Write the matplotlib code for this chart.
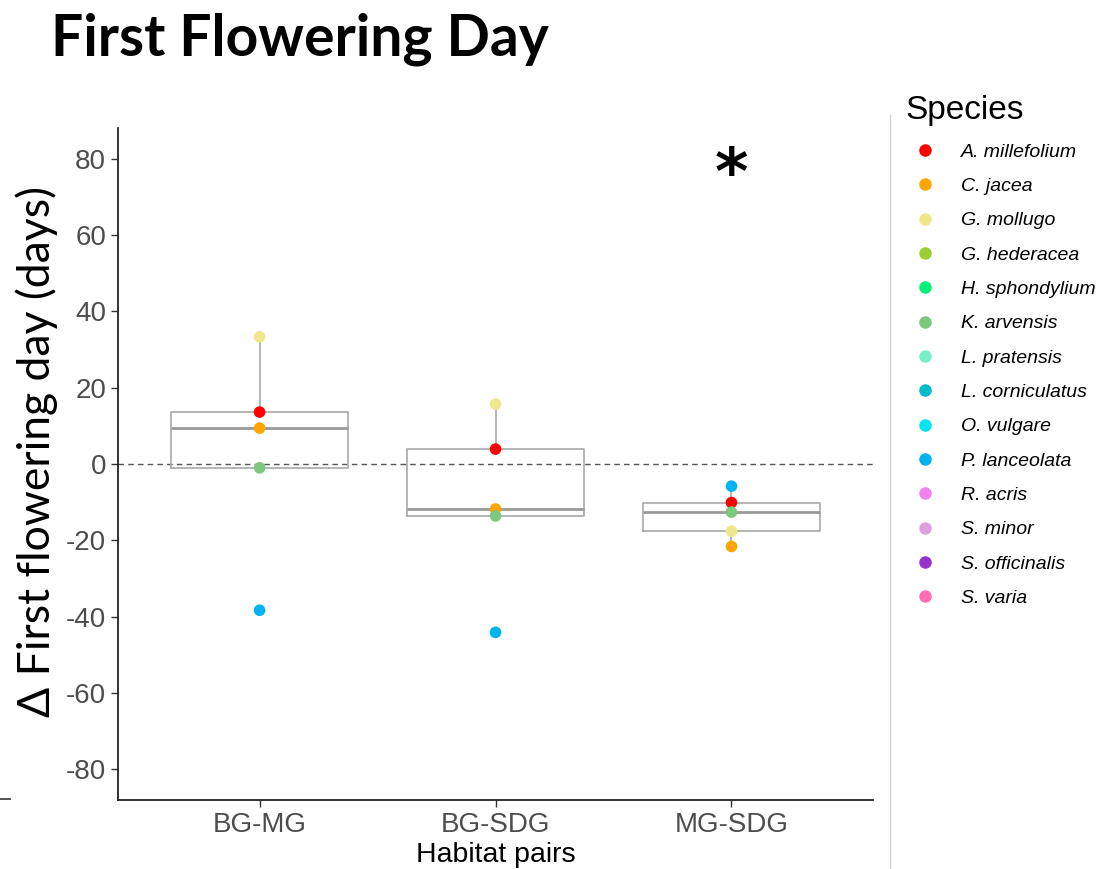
import numpy as np
import matplotlib
matplotlib.use("Agg")
import matplotlib.pyplot as plt
from matplotlib.lines import Line2D

# habitat pairs and per-species differences in first flowering day
pairs = ["BG-MG", "BG-SDG", "MG-SDG"]
species = ["A. millefolium", "C. jacea", "G. mollugo", "G. hederacea",
           "H. sphondylium", "K. arvensis", "L. pratensis", "L. corniculatus",
           "O. vulgare", "P. lanceolata", "R. acris", "S. minor",
           "S. officinalis", "S. varia"]
colors = ["#FF0000", "#FFA500", "#F0E68C", "#9ACD32",
          "#00F07A", "#7CC87C", "#76EEC6", "#00BCC8",
          "#00E5EE", "#00B2EE", "#EE82EE", "#DDA0DD",
          "#9A32CD", "#FF6EB4"]

# species measured in each pair
measured = ["A. millefolium", "C. jacea", "G. mollugo", "K. arvensis", "P. lanceolata"]
delta_bg_mg = [13.6, 9.4, 33.3, -1.0, -38.3]
delta_bg_sdg = [3.9, -11.8, 15.7, -13.6, -44.1]
delta_mg_sdg = [-10.1, -21.6, -17.6, -12.6, -5.8]
deltas = [delta_bg_mg, delta_bg_sdg, delta_mg_sdg]

yticks = [-80, -60, -40, -20, 0, 20, 40, 60, 80]

fig = plt.figure(figsize=(10.99, 8.69), dpi=100)
ax = fig.add_axes([0.1074, 0.0794, 0.6870, 0.7733])

pos = np.arange(1, len(pairs) + 1)
box_col = "#A8A8A8"
ax.boxplot(deltas, positions=pos, widths=0.75, whis=1.5, showfliers=False,
           patch_artist=False,
           boxprops=dict(color=box_col, linewidth=1.2),
           whiskerprops=dict(color=box_col, linewidth=1.2),
           capprops=dict(linewidth=0),
           medianprops=dict(color="#999999", linewidth=2.0),
           zorder=2)

ax.axhline(0, color="#555555", linestyle=(0, (4, 3)), linewidth=1.0, zorder=1)

col_of = dict(zip(species, colors))
for p, vals in zip(pos, deltas):
    for sp, v in zip(measured, vals):
        ax.scatter(p, v, s=70, color=col_of[sp], edgecolors="none", zorder=3)

# significance marker
ax.text(3, 75.5, "*", ha="center", va="center", fontsize=46,
        fontweight="bold", fontfamily="DejaVu Sans", color="black")

ax.set_xlim(0.4, 3.6)
ax.set_ylim(-88, 88)
ax.set_xticks(pos)
ax.set_xticklabels(pairs)
ax.set_yticks(yticks)
ax.set_yticklabels([str(t) for t in yticks])
ax.tick_params(axis="both", labelsize=20, labelcolor="#4D4D4D",
               color="#333333", length=5, width=1.0)
for lab in ax.get_xticklabels() + ax.get_yticklabels():
    lab.set_fontfamily("Liberation Sans")
for s in ["top", "right"]:
    ax.spines[s].set_visible(False)
for s in ["left", "bottom"]:
    ax.spines[s].set_color("#222222")
    ax.spines[s].set_linewidth(1.3)

ax.set_xlabel("Habitat pairs", fontsize=20.5, fontfamily="Liberation Sans",
              color="black", labelpad=3)
fig.text(0.033, 0.48, "\u0394 First flowering day (days)", rotation=90,
         ha="center", va="center", fontsize=32, fontfamily="Lato")

fig.text(0.046, 0.955, "First Flowering Day", ha="left", va="center",
         fontsize=41, fontweight="bold", fontfamily="Lato")

handles = [Line2D([], [], marker="o", linestyle="none", markersize=9,
                  markerfacecolor=c, markeredgecolor="none") for c in colors]
leg = ax.legend(handles, species, loc="upper left",
                bbox_to_anchor=(0.811, 0.907), bbox_transform=fig.transFigure,
                frameon=False, title="Species", fontsize=14,
                title_fontsize=24, labelspacing=0.86, handletextpad=0.85,
                borderpad=0.75, borderaxespad=0)
leg._legend_box.align = "left"
for t in leg.get_texts():
    t.set_fontstyle("italic")
    t.set_fontfamily("Liberation Sans")
leg.get_title().set_fontfamily("Liberation Sans")

# divider and edge rule
fig.add_artist(Line2D([890 / 1099, 890 / 1099], [0, 1 - 115 / 869],
                      transform=fig.transFigure, color="#D0D0D0", linewidth=1))
fig.add_artist(Line2D([0, 10 / 1099], [1 - 799 / 869, 1 - 799 / 869],
                      transform=fig.transFigure, color="#444444", linewidth=1.3))

fig.savefig("out.png", dpi=100)
